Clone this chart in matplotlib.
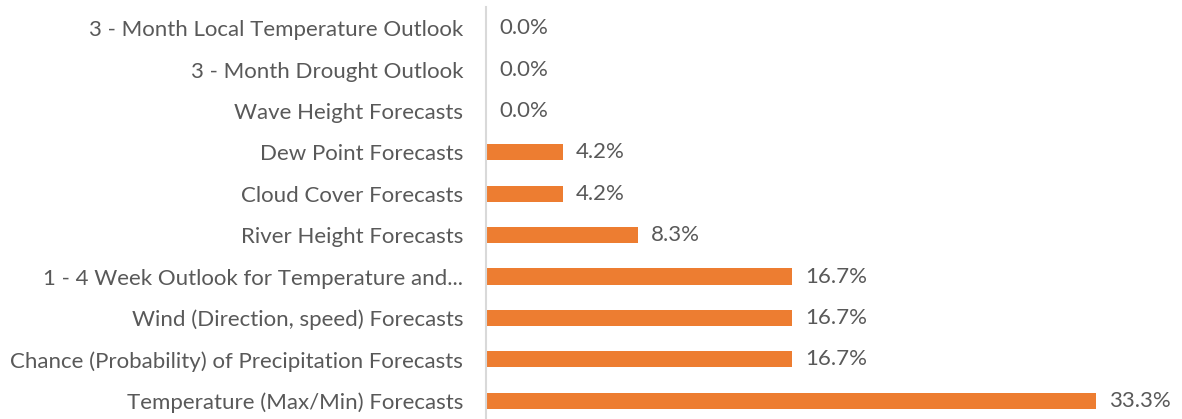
import matplotlib
matplotlib.use("Agg")
import matplotlib.pyplot as plt

# Share of responses per forecast product (percent), bottom to top
categories = [
    "Temperature (Max/Min) Forecasts",
    "Chance (Probability) of Precipitation Forecasts",
    "Wind (Direction, speed) Forecasts",
    "1 - 4 Week Outlook for Temperature and...",
    "River Height Forecasts",
    "Cloud Cover Forecasts",
    "Dew Point Forecasts",
    "Wave Height Forecasts",
    "3 - Month Drought Outlook",
    "3 - Month Local Temperature Outlook",
]
values = [33.3, 16.7, 16.7, 16.7, 8.3, 4.2, 4.2, 0.0, 0.0, 0.0]

bar_color = "#ED7D31"
text_color = "#595959"
plt.rcParams['font.family'] = ['Lato', 'DejaVu Sans']

fig = plt.figure(figsize=(11.82, 4.19), dpi=100)
ax = fig.add_axes([486/1182, 0.0, 1 - 486/1182, 1 - 7/419])

ypos = list(range(len(categories)))
bars = ax.barh(ypos, values, height=0.39, color=bar_color)

for rect, v in zip(bars, values):
    ax.annotate(f"{v:.1f}%",
                xy=(rect.get_width(), rect.get_y() + rect.get_height()/2),
                xytext=(9.5, 0), textcoords="offset points",
                ha="left", va="center", fontsize=16, color=text_color)

ax.set_yticks(ypos)
ax.set_yticklabels(categories, fontsize=16, color=text_color)
ax.tick_params(axis="y", length=0, pad=16.5)
ax.set_xticks([])
ax.set_xlim(0, 38.0)
ax.set_ylim(-0.44, 9.51)

for side in ["top", "right", "bottom"]:
    ax.spines[side].set_visible(False)
ax.spines["left"].set_color("#D9D9D9")
ax.spines["left"].set_linewidth(1.5)

fig.savefig("out.png", dpi=100)
